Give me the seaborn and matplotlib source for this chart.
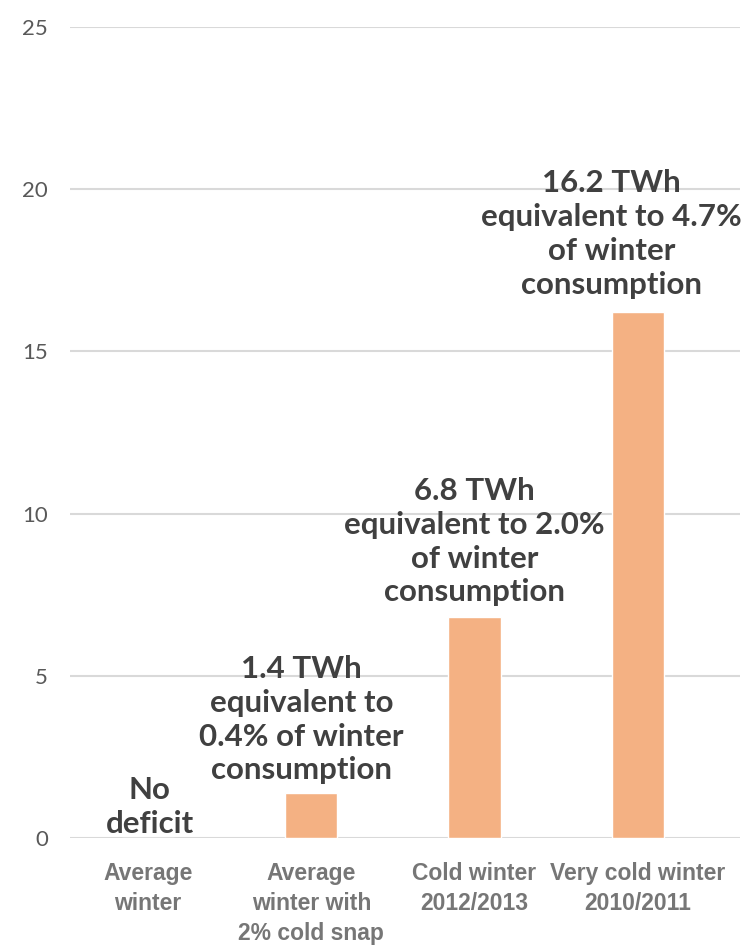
import matplotlib
matplotlib.use("Agg")
import matplotlib.pyplot as plt
import seaborn as sns
import pandas as pd

# ── data ──────────────────────────────────────────────────────
scenarios = ["Average\nwinter", "Average\nwinter with\n2% cold snap",
             "Cold winter\n2012/2013", "Very cold winter\n2010/2011"]
deficit_twh = [0.0, 1.4, 6.8, 16.2]
bar_notes = ["No\ndeficit",
             "1.4 TWh\nequivalent to\n0.4% of winter\nconsumption",
             "6.8 TWh\nequivalent to 2.0%\nof winter\nconsumption",
             "16.2 TWh\nequivalent to 4.7%\nof winter\nconsumption"]
y_ticks = [0, 5, 10, 15, 20, 25]

df = pd.DataFrame({"scenario": scenarios, "deficit": deficit_twh})

sns.set_style("white")
plt.rcParams["font.family"] = ["Lato", "DejaVu Sans"]

fig = plt.figure(figsize=(7.48, 9.48), dpi=100)
ax = fig.add_axes([0.0936, 0.116, 0.8954, 0.8555])

sns.barplot(data=df, x="scenario", y="deficit", color="#F4B183",
            width=0.32, saturation=1, ax=ax, zorder=3)

ax.set_ylim(0, 25)
ax.set_xlim(-0.478, 3.625)
ax.set_yticks(y_ticks)
ax.yaxis.grid(True, color="#d9d9d9", linewidth=1.5, zorder=0)
ax.set_axisbelow(True)
sns.despine(ax=ax, left=True, bottom=True)
ax.set_xlabel(""); ax.set_ylabel("")
ax.tick_params(axis="y", length=0, pad=16, labelsize=16, labelcolor="#595959")
ax.tick_params(axis="x", length=0, pad=17)
ax.set_xticks(range(len(scenarios)))
ax.set_xticklabels(scenarios, fontsize=16.5, fontweight="bold", color="#767676",
                   family="Liberation Sans", linespacing=1.4)

# ── annotations ───────────────────────────────────────────────
x_shift = [0.01, -0.06, 0.0, -0.16]
y_off = [0, 6, 8, 10]
for i, (val, note) in enumerate(zip(deficit_twh, bar_notes)):
    ax.annotate(note, xy=(i + x_shift[i], val), xytext=(0, y_off[i]),
                textcoords="offset points", ha="center", va="bottom",
                fontsize=22.5, fontweight="bold", color="#404040",
                linespacing=1.25)

fig.savefig("out.png", dpi=100)
